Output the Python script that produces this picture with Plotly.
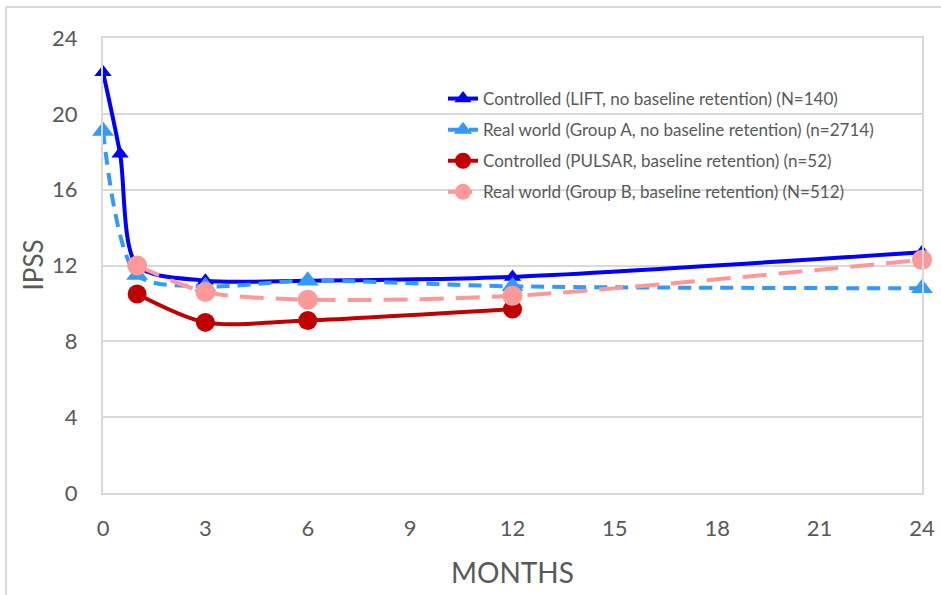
import plotly.graph_objects as go

# ---- data ----
lift_x = [0, 0.5, 1, 3, 6, 12, 24]
lift_y = [22.2, 17.9, 12.0, 11.2, 11.2, 11.4, 12.7]

groupA_x = [0, 1, 3, 6, 12, 24]
groupA_y = [19.1, 11.5, 10.9, 11.2, 10.9, 10.8]

pulsar_x = [1, 3, 6, 12]
pulsar_y = [10.5, 9.0, 9.1, 9.7]

groupB_x = [1, 3, 6, 12, 24]
groupB_y = [12.0, 10.6, 10.2, 10.4, 12.3]

names = [
    "Controlled (LIFT, no baseline retention) (N=140)",
    "Real world (Group A, no baseline retention) (n=2714)",
    "Controlled (PULSAR, baseline retention) (n=52)",
    "Real world (Group B, baseline retention) (N=512)",
]
y_ticks = [0, 4, 8, 12, 16, 20, 24]
x_ticks = [0, 3, 6, 9, 12, 15, 18, 21, 24]

FONT = "Lato"
TXT = "#595959"
GRID = "#d9d9d9"

fig = go.Figure()
fig.add_trace(go.Scatter(
    x=lift_x, y=lift_y, name=names[0], mode="lines+markers", legendgroup="a",
    cliponaxis=False,
    line=dict(color="#0000FF", width=4, shape="spline", smoothing=0.8),
    marker=dict(symbol="triangle-up", size=15, color="#0000FF")))
fig.add_trace(go.Scatter(
    x=groupA_x, y=groupA_y, name=names[1], mode="lines+markers", legendgroup="b",
    cliponaxis=False,
    line=dict(color="#3399FF", width=4, shape="spline", smoothing=0.8, dash="13px,8px"),
    marker=dict(symbol="triangle-up", size=19, color="#3399FF")))
fig.add_trace(go.Scatter(
    x=pulsar_x, y=pulsar_y, name=names[2], mode="lines+markers", legendgroup="c",
    cliponaxis=False,
    line=dict(color="#C00000", width=4, shape="spline", smoothing=0.8),
    marker=dict(symbol="circle", size=19, color="#C00000")))
fig.add_trace(go.Scatter(
    x=groupB_x, y=groupB_y, name=names[3], mode="lines+markers", legendgroup="d",
    cliponaxis=False,
    line=dict(color="#FF9999", width=4, shape="spline", smoothing=0.8, dash="24px,12px"),
    marker=dict(symbol="circle", size=20, color="#FF9999")))

L, R, T, B = 103, 19, 38, 102
W, H = 941, 595
pw, ph = W - L - R, H - T - B

fig.update_layout(
    width=W, height=H,
    margin=dict(l=L, r=R, t=T, b=B, pad=0, autoexpand=False),
    paper_bgcolor="white", plot_bgcolor="white",
    font=dict(family=FONT, color=TXT),
    showlegend=True,
    legend=dict(
        x=(443 - L) / pw, y=(H - B - 81) / ph, xanchor="left", yanchor="top",
        bgcolor="rgba(0,0,0,0)", font=dict(size=17, color=TXT, family=FONT),
        tracegroupgap=6, itemwidth=30,
    ),
    xaxis=dict(
        range=[0, 24], tickvals=x_ticks, showgrid=False, zeroline=False,
        showline=True, linecolor=GRID, linewidth=2, mirror=True, automargin=False,
        ticks="", tickfont=dict(size=22, color=TXT), ticklabelstandoff=15,
        title=dict(text="MONTHS", font=dict(size=28, color=TXT), standoff=23),
    ),
    yaxis=dict(
        range=[0, 24], tickvals=y_ticks, showgrid=True, gridcolor=GRID, gridwidth=2,
        zeroline=False, showline=True, linecolor=GRID, linewidth=2, mirror=True,
        automargin=False,
        ticks="", tickfont=dict(size=22, color=TXT), ticklabelstandoff=19,
    ),
    annotations=[
        dict(text="IPSS", xref="paper", yref="paper", x=(32 - L) / pw, y=0.5,
             xanchor="center", yanchor="middle", textangle=-90, showarrow=False,
             font=dict(size=26, color=TXT, family=FONT)),
    ],
    shapes=[
        dict(type="line", xref="paper", yref="paper",
             x0=(6 - L) / pw, x1=1.2, y0=1 + (T - 7) / ph, y1=1 + (T - 7) / ph,
             line=dict(color=GRID, width=2)),
        dict(type="line", xref="paper", yref="paper",
             x0=(6 - L) / pw, x1=(6 - L) / pw, y0=1 + (T - 7) / ph, y1=-0.3,
             line=dict(color=GRID, width=2)),
    ],
)

fig.write_html(
    "out.html",
    config={"displayModeBar": False},
    post_script="document.body.style.margin='0px';document.body.style.overflow='hidden';",
)
